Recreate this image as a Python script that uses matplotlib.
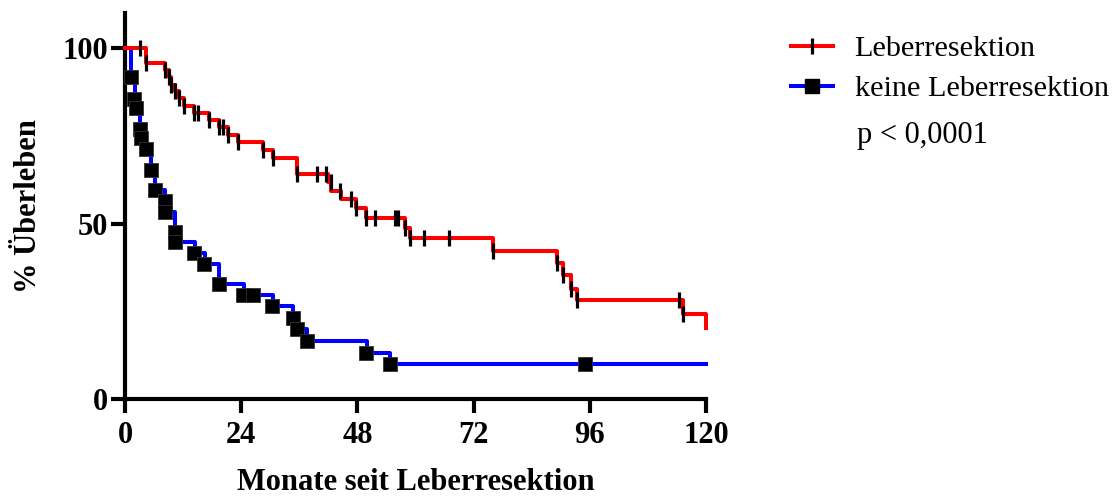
import numpy as np
import matplotlib
matplotlib.use("Agg")
import matplotlib.pyplot as plt
from matplotlib.lines import Line2D

plt.rcParams['font.family'] = ['Liberation Serif', 'DejaVu Serif']

# ---- data ----
# Leberresektion: step function (event time in months, survival % after step)
red_t = [0, 4.3, 8.3, 9.1, 9.6, 10.3, 11.2, 12.2, 14.2, 17.4, 19.4, 21.3, 23.4,
         28.5, 30.6, 35.5, 41.9, 42.6, 44.7, 47.8, 49.8, 57.9, 58.9, 76.1, 89.3,
         90.4, 92.2, 93.3, 115.3, 120]
red_s = [100, 95.7, 93.7, 91.7, 89.6, 87.7, 85.8, 83.6, 81.6, 79.5, 77.4, 75.3, 73.2,
         71.0, 68.8, 64.1, 61.7, 59.4, 57.0, 54.4, 51.6, 48.8, 45.9, 42.3, 38.7,
         35.2, 31.4, 28.1, 24.3, 20.1]
red_censor = [3.2, 4.3, 8.3, 9.1, 9.6, 10.3, 11.2, 12.2, 14.3, 15.1, 17.4, 19.4, 20.3,
              21.3, 23.4, 28.5, 30.6, 35.5, 39.6, 41.5, 42.5, 44.5, 46.7, 47.8, 49.8,
              51.6, 55.8, 56.4, 57.9, 58.9, 61.8, 67.0, 76.1, 89.3, 90.4, 92.2, 93.3,
              114.5, 115.3]

# keine Leberresektion
blue_t = [0, 1.2, 2.0, 2.3, 3.1, 3.3, 4.3, 5.3, 6.2, 8.2, 8.4, 10.3, 10.4, 14.4,
          16.5, 19.4, 24.6, 30.5, 34.8, 35.5, 37.5, 49.9, 54.7, 120]
blue_s = [100, 91.7, 85.6, 82.8, 77.0, 74.5, 71.3, 65.3, 59.5, 56.3, 53.4, 47.7, 44.6,
          41.6, 38.5, 32.7, 29.7, 26.4, 23.2, 19.9, 16.6, 13.2, 10.1, 10.1]
blue_mark_t = [1.3, 1.9, 2.3, 3.1, 3.3, 4.3, 5.3, 6.2, 8.3, 8.3, 10.3, 10.3, 14.3,
               16.4, 19.4, 24.4, 26.4, 30.4, 34.6, 35.5, 37.6, 49.7, 54.7, 95.1]
blue_mark_s = [91.7, 85.6, 82.8, 77.0, 74.5, 71.3, 65.3, 59.5, 56.3, 53.4, 47.7, 44.6,
               41.6, 38.5, 32.7, 29.7, 29.7, 26.4, 23.2, 19.9, 16.6, 13.2, 10.1, 10.1]

x_ticks = [0, 24, 48, 72, 96, 120]
y_ticks = [0, 50, 100]
labels = ["Leberresektion", "keine Leberresektion"]
p_text = "p < 0,0001"

# ---- figure ----
W, H = 1118, 496
fig = plt.figure(figsize=(W / 100, H / 100), dpi=100)
ax = fig.add_axes([125 / W, (H - 399) / H, (706 - 125) / W, (399 - 13) / H])

RED = '#ff0000'
BLUE = '#0000ff'

# step curves
ax.step(red_t, red_s, where='post', color=RED, lw=2.9, zorder=3, clip_on=False)
ax.step(blue_t, blue_s, where='post', color=BLUE, lw=2.9, zorder=2, clip_on=False)

# red censor ticks placed on the step curve
rt = np.array(red_t); rs = np.array(red_s)
idx = np.searchsorted(rt, red_censor, side='right') - 1
ax.plot(red_censor, rs[idx], linestyle='none', marker='|', color='black',
        markersize=11.5, markeredgewidth=2.3, zorder=4, clip_on=False)

# blue square symbols
ax.plot(blue_mark_t, blue_mark_s, linestyle='none', marker='s', color='black',
        markersize=10.5, markeredgewidth=0.6, markeredgecolor='#333333',
        zorder=4, clip_on=False)

ax.set_xlim(0, 120)
ax.set_ylim(0, 110)
ax.set_xticks(x_ticks)
ax.set_yticks(y_ticks)
ax.tick_params(axis='both', which='major', direction='out', length=10, width=3,
               labelsize=22)
ax.tick_params(axis='x', pad=6)
ax.tick_params(axis='y', pad=2)
for lab in ax.get_xticklabels() + ax.get_yticklabels():
    lab.set_fontweight('bold')

for s in ['top', 'right']:
    ax.spines[s].set_visible(False)
for s in ['left', 'bottom']:
    ax.spines[s].set_linewidth(3)

ax.set_xlabel("Monate seit Leberresektion", fontsize=22, fontweight='bold', labelpad=13)
ax.set_ylabel("% Überleben", fontsize=22, fontweight='bold', labelpad=14)

handles = [
    Line2D([], [], color=RED, lw=2.9, marker='|', markersize=11.5,
           markeredgewidth=2.3, markeredgecolor='black'),
    Line2D([], [], color=BLUE, lw=2.9, marker='s', markersize=10.5,
           markerfacecolor='black', markeredgecolor='black'),
]
fig.legend(handles, labels, loc='upper left', bbox_to_anchor=(791 / W, 1 - 35 / H),
           frameon=False, fontsize=21.8, handlelength=1.4, handletextpad=0.7,
           labelspacing=0.42, borderaxespad=0, borderpad=0)
fig.text(857 / W, 1 - 136 / H, p_text, fontsize=22, va='center', ha='left')

fig.savefig("out.png", dpi=100)
